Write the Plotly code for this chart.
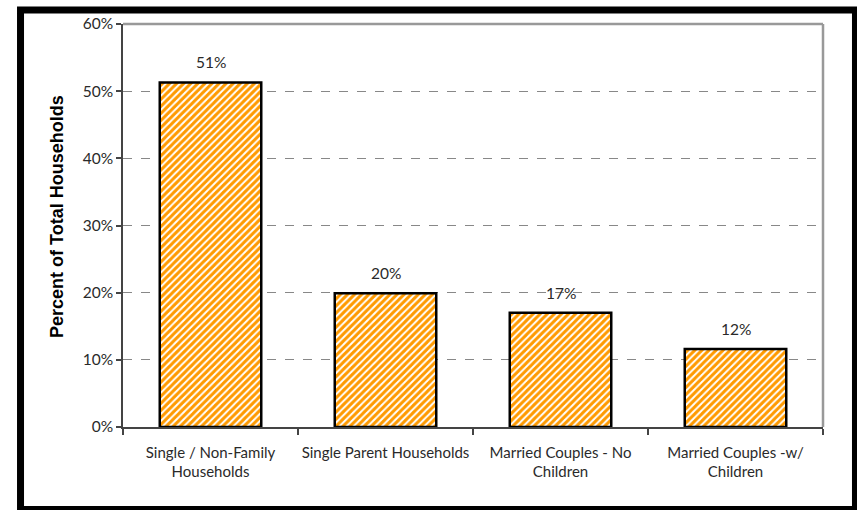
import plotly.graph_objects as go

# Household composition shares (% of total households)
categories = [
    "Single / Non-Family<br>Households",
    "Single Parent Households",
    "Married Couples - No<br>Children",
    "Married Couples -w/<br>Children",
]
shares = [51.3, 19.9, 17.0, 11.6]
y_ticks = [0, 10, 20, 30, 40, 50, 60]

ORANGE = "#FF9A00"
TEXT = "#2a2a2a"
FONT = "Lato"

fig = go.Figure()
fig.add_trace(go.Bar(
    x=categories,
    y=shares,
    width=0.58,
    marker=dict(
        color="white",
        line=dict(color="black", width=2.5),
        pattern=dict(shape="/", fgcolor=ORANGE, fgopacity=1, bgcolor="white",
                     size=5, solidity=0.6),
    ),
    hoverinfo="skip",
))

# Value labels above each bar
for c, v in zip(categories, shares):
    fig.add_annotation(x=c, y=v, text=f"{v:.0f}%", showarrow=False,
                       yshift=20, yanchor="middle",
                       font=dict(family=FONT, size=15.5, color=TEXT))

# Y-axis title, placed as a rotated annotation
fig.add_annotation(xref="paper", yref="paper", x=-0.0943, y=0.5236,
                   text="<b>Percent of Total Households</b>", textangle=-90,
                   showarrow=False, xanchor="center", yanchor="middle",
                   font=dict(family="Liberation Sans", size=18, color="black"))

fig.update_layout(
    width=857, height=510,
    margin=dict(l=123, r=34, t=24, b=83),
    paper_bgcolor="white", plot_bgcolor="white",
    showlegend=False,
    font=dict(family=FONT, size=14, color=TEXT),
    bargap=0.42,
)

fig.update_xaxes(
    showline=True, linecolor="#444", linewidth=1.5,
    ticks="outside", ticklen=6, tickcolor="#444", tickwidth=1.5,
    tickson="boundaries", tickangle=0, automargin=False,
    ticklabelstandoff=11,
    tickfont=dict(family=FONT, size=15, color=TEXT),
    showgrid=False,
)
fig.update_yaxes(
    range=[0, 60], tickvals=y_ticks, ticktext=[f"{t}%" for t in y_ticks],
    showline=True, linecolor="#444", linewidth=1.5,
    ticks="outside", ticklen=5, tickcolor="#444", tickwidth=1.5,
    automargin=False,
    tickfont=dict(family=FONT, size=15.5, color=TEXT),
    showgrid=True, gridcolor="#888", griddash="dash", gridwidth=1,
    zeroline=False,
)

# Light frame lines on the top and right of the plot area
fig.add_shape(type="line", xref="paper", yref="paper", x0=0, x1=1, y0=1, y1=1,
              line=dict(color="#999", width=2.5))
fig.add_shape(type="line", xref="paper", yref="paper", x0=1, x1=1, y0=0, y1=1,
              line=dict(color="#999", width=2.5))

# Heavy black border around the whole chart
fig.add_shape(type="rect", xref="paper", yref="paper",
              x0=-0.1464, x1=1.0464, y0=-0.2047, y1=1.0347,
              line=dict(color="black", width=7), layer="above")

fig.write_html("out.html")
